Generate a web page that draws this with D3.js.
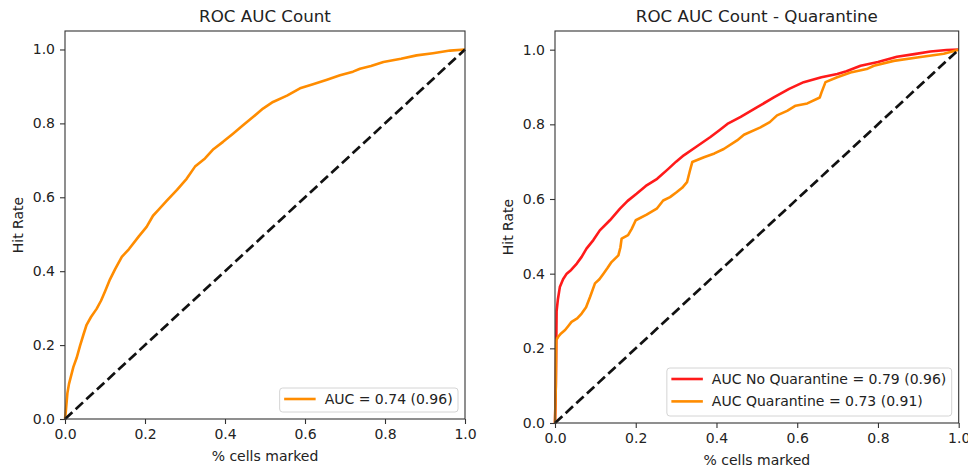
<!DOCTYPE html>
<html>
<head>
<meta charset="utf-8">
<script src="https://cdn.jsdelivr.net/npm/d3@7"></script>
<style>
  body { margin: 0; background: #fff; }
  svg { font-family: "DejaVu Sans", sans-serif; }
</style>
</head>
<body>
<svg id="canvas" width="968" height="470"></svg>
<script>
// tick values shared by both panels
let ticks = [0, 0.2, 0.4, 0.6, 0.8, 1.0]

// left panel: ROC AUC Count
let countCurve = [[0,0],[0.002,0.02],[0.006,0.07],[0.01,0.095],[0.021,0.141],[0.029,0.165],[0.0375,0.198],
    [0.046,0.228],[0.054,0.255],[0.065,0.276],[0.079,0.298],[0.09,0.32],[0.1,0.345],[0.1125,0.378],[0.125,0.405],
    [0.142,0.439],[0.16,0.46],[0.185,0.495],[0.204,0.52],[0.22,0.55],[0.233,0.565],[0.254,0.59],[0.28,0.62],
    [0.304,0.65],[0.325,0.683],[0.35,0.705],[0.371,0.73],[0.395,0.75],[0.42,0.772],[0.445,0.795],[0.47,0.817],
    [0.495,0.84],[0.52,0.858],[0.555,0.875],[0.5875,0.895],[0.62,0.906],[0.655,0.918],[0.6875,0.93],[0.72,0.94],
    [0.7375,0.948],[0.765,0.955],[0.796,0.966],[0.84,0.975],[0.879,0.984],[0.92,0.99],[0.9625,0.997],[1,1]]

// right panel: no quarantine
let noQuarantineCurve = [[0,0],[0.002,0.1],[0.003,0.2],[0.004,0.3],[0.007,0.33],[0.012,0.364],[0.02,0.385],
    [0.029,0.4],[0.04,0.41],[0.054,0.427],[0.066,0.445],[0.078,0.467],[0.095,0.49],[0.111,0.516],[0.136,0.543],
    [0.161,0.574],[0.18,0.595],[0.202,0.614],[0.225,0.635],[0.253,0.654],[0.28,0.68],[0.3,0.7],[0.319,0.717],
    [0.35,0.74],[0.385,0.766],[0.408,0.785],[0.427,0.801],[0.46,0.82],[0.501,0.846],[0.542,0.872],[0.58,0.895],
    [0.616,0.913],[0.66,0.926],[0.699,0.935],[0.722,0.942],[0.757,0.957],[0.8,0.967],[0.847,0.981],[0.89,0.988],
    [0.93,0.995],[0.97,0.999],[1,1]]

// right panel: quarantine
let quarantineCurve = [[0,0],[0.002,0.1],[0.003,0.222],[0.008,0.231],[0.015,0.24],[0.025,0.249],[0.033,0.26],
    [0.041,0.271],[0.055,0.28],[0.066,0.293],[0.077,0.31],[0.087,0.338],[0.099,0.374],[0.11,0.385],[0.12,0.4],
    [0.13,0.415],[0.14,0.431],[0.157,0.449],[0.162,0.47],[0.165,0.494],[0.181,0.503],[0.19,0.52],[0.2,0.543],
    [0.227,0.558],[0.252,0.574],[0.268,0.596],[0.285,0.605],[0.301,0.618],[0.315,0.63],[0.327,0.645],[0.334,0.675],
    [0.34,0.699],[0.369,0.712],[0.395,0.722],[0.418,0.734],[0.451,0.757],[0.468,0.772],[0.509,0.792],[0.532,0.806],
    [0.55,0.824],[0.575,0.836],[0.596,0.85],[0.625,0.856],[0.656,0.872],[0.66,0.885],[0.67,0.913],[0.699,0.926],
    [0.732,0.939],[0.772,0.948],[0.79,0.957],[0.839,0.97],[0.897,0.979],[0.963,0.989],[1,1]]

let chanceLine = [[0,0],[1,1]]

let svg = d3.select('#canvas')
let textColor = '#222'
let spineColor = '#333'

let drawPanel = (panel) => {
    let x = d3.scaleLinear().domain([0, 1]).range([panel.left, panel.right])
    let y = d3.scaleLinear().domain([0, 1.05]).range([panel.bottom, panel.top])

    let g = svg.append('g')

    let line = d3.line()
        .x((d) => x(d[0]))
        .y((d) => y(d[1]))

    panel.series.forEach((s) => {
        g.append('path')
            .datum(s.data)
            .attr('d', line)
            .attr('fill', 'none')
            .attr('stroke', s.color)
            .attr('stroke-width', 2.6)
            .attr('stroke-linejoin', 'round')
    })

    g.append('path')
        .datum(chanceLine)
        .attr('d', line)
        .attr('fill', 'none')
        .attr('stroke', '#111')
        .attr('stroke-width', 2.7)
        .attr('stroke-dasharray', '10,4.5')

    // frame
    g.append('rect')
        .attr('x', panel.left)
        .attr('y', panel.top)
        .attr('width', panel.right - panel.left)
        .attr('height', panel.bottom - panel.top)
        .attr('fill', 'none')
        .attr('stroke', spineColor)
        .attr('stroke-width', 1.1)

    let xAxis = g.append('g')
        .attr('transform', 'translate(0,' + panel.bottom + ')')
        .call(d3.axisBottom(x).tickValues(ticks).tickFormat(d3.format('.1f')).tickSize(5).tickPadding(5))
    let yAxis = g.append('g')
        .attr('transform', 'translate(' + panel.left + ',0)')
        .call(d3.axisLeft(y).tickValues(ticks).tickFormat(d3.format('.1f')).tickSize(5).tickPadding(5))

    ;[xAxis, yAxis].forEach((a) => {
        a.select('.domain').remove()
        a.selectAll('line').attr('stroke', spineColor).attr('stroke-width', 1.1)
        a.selectAll('text')
            .attr('fill', textColor)
            .style('font-size', '14px')
            .style('font-family', '"DejaVu Sans", sans-serif')
    })

    let midX = (panel.left + panel.right) / 2
    let midY = (panel.top + panel.bottom) / 2

    g.append('text')
        .attr('x', midX)
        .attr('y', 21.5)
        .attr('text-anchor', 'middle')
        .attr('fill', textColor)
        .style('font-size', '16.7px')
        .text(panel.title)

    g.append('text')
        .attr('x', midX)
        .attr('y', panel.bottom + 42)
        .attr('text-anchor', 'middle')
        .attr('fill', textColor)
        .style('font-size', '14px')
        .text('% cells marked')

    g.append('text')
        .attr('transform', 'translate(' + (panel.left - 42) + ',' + midY + ') rotate(-90)')
        .attr('text-anchor', 'middle')
        .attr('fill', textColor)
        .style('font-size', '14px')
        .text('Hit Rate')

    // legend, lower right
    let legend = g.append('g')
    let box = legend.append('rect')
        .attr('fill', 'white')
        .attr('fill-opacity', 0.85)
        .attr('stroke', '#d4d4d4')
        .attr('stroke-width', 1)
        .attr('rx', 3)
    let labels = panel.series.map((s, i) => {
        return legend.append('text')
            .attr('fill', textColor)
            .style('font-size', '14px')
            .attr('dy', '0.35em')
            .text(s.label)
    })
    let textWidth = d3.max(labels, (t) => t.node().getComputedTextLength())
    let boxW = 5.6 + 28 + 11.2 + textWidth + 5.6
    let boxH = 24 + (panel.series.length - 1) * 24
    let bx = panel.right - 7 - boxW
    let by = panel.bottom - 7 - boxH
    box.attr('x', bx).attr('y', by).attr('width', boxW).attr('height', boxH)
    panel.series.forEach((s, i) => {
        let cy = by + 11 + i * 22.4
        legend.append('line')
            .attr('x1', bx + 4.5).attr('x2', bx + 4.5 + 31.5)
            .attr('y1', cy).attr('y2', cy)
            .attr('stroke', s.color)
            .attr('stroke-width', 2.6)
        labels[i].attr('x', bx + 45).attr('y', cy)
    })
}

drawPanel({
    title: 'ROC AUC Count',
    left: 65, right: 465, top: 31, bottom: 419,
    series: [
        { data: countCurve, color: '#ff8c00', label: 'AUC = 0.74 (0.96)' }
    ]
})

drawPanel({
    title: 'ROC AUC Count - Quarantine',
    left: 555, right: 958.7, top: 31, bottom: 423,
    series: [
        { data: noQuarantineCurve, color: '#ff1a1a', label: 'AUC No Quarantine = 0.79 (0.96)' },
        { data: quarantineCurve, color: '#ff8c00', label: 'AUC Quarantine = 0.73 (0.91)' }
    ]
})
</script>
</body>
</html>
